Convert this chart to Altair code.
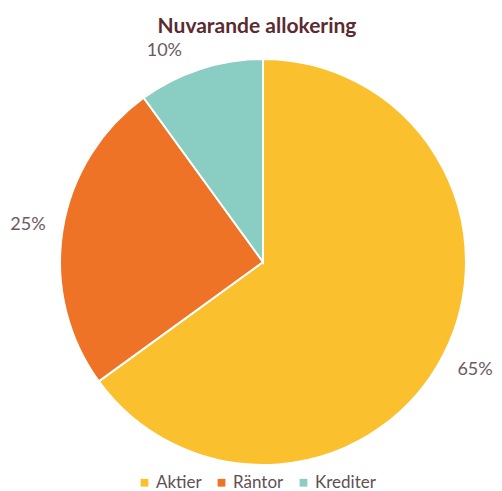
import altair as alt
import pandas as pd

categories = ["Aktier", "Räntor", "Krediter"]
values = [65, 25, 10]
labels = ["65%", "25%", "10%"]
colors = ["#FBC02D", "#EE7326", "#8ACDC2"]

df = pd.DataFrame({"kategori": categories, "andel": values, "etikett": labels, "ordning": [0, 1, 2]})

theta_scale = alt.Scale(domain=[0, sum(values)])

base = alt.Chart(df).transform_window(
    slut="sum(andel)", sort=[alt.SortField("ordning")], frame=[None, 0]
).transform_calculate(
    start="datum.slut - datum.andel",
    mitt="datum.slut - datum.andel / 2",
)

pie = base.mark_arc(stroke="white", strokeWidth=2).encode(
    theta=alt.Theta("start:Q", scale=theta_scale),
    theta2="slut:Q",
    color=alt.Color(
        "kategori:N",
        scale=alt.Scale(domain=categories, range=colors),
        sort=categories,
        legend=alt.Legend(
            title=None,
            orient="none",
            direction="horizontal",
            legendX=136,
            legendY=434,
            symbolType="square",
            symbolSize=60,
            symbolStrokeWidth=0,
            labelFont="Lato",
            labelFontSize=17,
            labelColor="#5f5055",
            columnPadding=11,
            symbolOffset=0,
            labelOffset=3,
        ),
    ),
    x=alt.value(263),
    y=alt.value(222),
    radius=alt.value(203),
)

text_main = base.transform_filter(alt.datum.kategori != "Krediter").mark_text(
    font="Lato", fontSize=18, color="#6b5a5f"
).encode(
    theta=alt.Theta("mitt:Q", scale=theta_scale),
    text="etikett:N",
    x=alt.value(263),
    y=alt.value(222),
    radius=alt.value(238),
)

text_small = base.transform_filter(alt.datum.kategori == "Krediter").mark_text(
    font="Lato", fontSize=18, color="#6b5a5f", dx=-30
).encode(
    theta=alt.Theta("mitt:Q", scale=theta_scale),
    text="etikett:N",
    x=alt.value(263),
    y=alt.value(222),
    radius=alt.value(222),
)

chart = (
    alt.layer(pie, text_main, text_small)
    .properties(
        width=502,
        height=451,
        autosize=alt.AutoSizeParams(type="none"),
        padding={"top": 40, "left": 0, "right": 0, "bottom": 0},
        title=alt.TitleParams(
            "Nuvarande allokering",
            font="Lato",
            fontSize=21,
            fontWeight="bold",
            color="#5b2b30",
            anchor="middle",
            dx=6,
            dy=3,
            offset=6,
        ),
    )
    .configure_view(stroke=None)
)

chart.save("out.html", embed_options={"renderer": "svg", "actions": False})
